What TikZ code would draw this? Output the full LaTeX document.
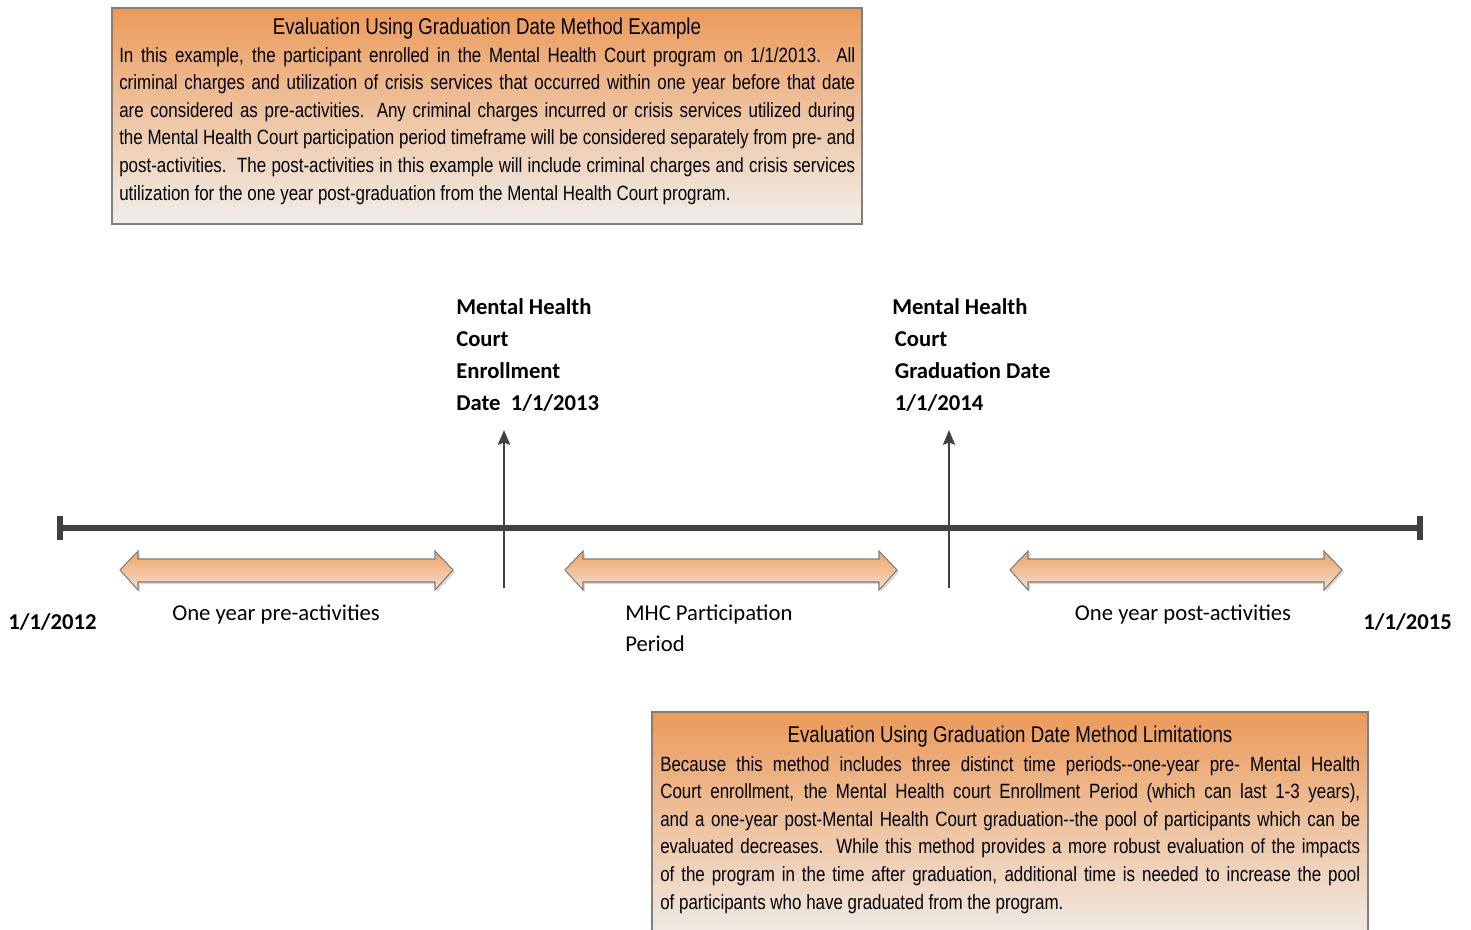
\documentclass[tikz,border=0pt]{standalone}
\usepackage{fontspec}
\setmainfont{Carlito}
\newfontfamily\narrowfont[FakeStretch=0.82]{Liberation Sans}
\usetikzlibrary{arrows.meta,shadows}

\definecolor{tlgray}{HTML}{404040}
\definecolor{edgegray}{HTML}{7F7F7F}
\definecolor{boxtop}{HTML}{EC9A5A}
\definecolor{boxbottom}{HTML}{F1EEEB}
\definecolor{spantop}{HTML}{EEA266}
\definecolor{spanbottom}{HTML}{F6DECD}

\tikzset{
  notebox/.style={draw=edgegray, line width=0.9pt, top color=boxtop, bottom color=boxbottom},
  notetitle/.style={font=\narrowfont\fontsize{17.1}{20}\selectfont, inner sep=0pt},
  notetext/.style={font=\narrowfont\fontsize{15.5}{20.7}\selectfont, align=justify, inner sep=0pt},
  spanshape/.style={draw=edgegray, line width=0.8pt, top color=spantop, bottom color=spanbottom,
    drop shadow={shadow xshift=1.5pt, shadow yshift=-1.5pt, opacity=0.3}},
  spanlabel/.style={font=\fontsize{17}{23.25}\selectfont, inner sep=0pt},
  datelabel/.style={font=\bfseries\fontsize{17}{24}\selectfont, inner sep=0pt},
  timeline/.style={draw=tlgray, line width=4pt},
  marker/.style={draw=tlgray, line width=1.4pt, -{Stealth[length=11pt, width=9pt, inset=1.5pt]}},
}

% block arrow between two tips (x of left tip, x of right tip)
\newcommand\spanarrow[2]{%
  \path[spanshape] (#1,570) -- (#1+18,551) -- (#1+18,559) -- (#2-18,559) -- (#2-18,551)
    -- (#2,570) -- (#2-18,590) -- (#2-18,582) -- (#1+18,582) -- (#1+18,590) -- cycle;}

\begin{document}
\begin{tikzpicture}[x=0.75pt, y=-0.75pt]
  \clip (0,0) rectangle (1471,929);

  % --- Example box ---
  \path[notebox] (112,8) rectangle (862,224);
  \node[notetitle, anchor=base] (extitle) at (487,34) {Evaluation Using Graduation Date Method Example};
  \node[notetext, anchor=base west, text width=552pt] (extext) at (119,62) {\hyphenpenalty=10000
    In this example, the participant enrolled in the Mental Health Court program on 1/1/2013.\ \ All\linebreak
    criminal charges and utilization of crisis services that occurred within one year before that date\linebreak
    are considered as pre-activities. Any criminal charges incurred or crisis services utilized during\linebreak
    the Mental Health Court participation period timeframe will be considered separately from pre- and\linebreak
    post-activities.\ \ The post-activities in this example will include criminal charges and crisis services\linebreak
    utilization for the one year post-graduation from the Mental Health Court program.};

  % --- Timeline ---
  \coordinate (tlstart) at (60,528);
  \coordinate (tlend) at (1420,528);
  \draw[timeline] (tlstart) -- (tlend);
  \draw[timeline] (tlstart) ++(0,-12) -- ++(0,24);
  \draw[timeline] (tlend) ++(0,-12) -- ++(0,24);

  % --- Enrollment and graduation markers ---
  \coordinate (enrollfoot) at (504,588);
  \coordinate (enrolltip) at (504,430);
  \coordinate (gradfoot) at (949,588);
  \coordinate (gradtip) at (949,430);
  \draw[marker] (enrollfoot) -- (enrolltip);
  \draw[marker] (gradfoot) -- (gradtip);

  \node[datelabel, anchor=base west, align=left] (enrolllabel) at (456,410)
    {Mental Health\\Court\\Enrollment\\Date\ \ 1/1/2013};
  \node[datelabel, anchor=base west, align=left] (gradlabel) at (892,410)
    {Mental Health\\\hspace*{2pt}Court\\\hspace*{2pt}Graduation Date\\\hspace*{2pt}1/1/2014};

  % --- Periods ---
  \spanarrow{120}{453}
  \spanarrow{565}{897}
  \spanarrow{1010}{1342}

  \node[spanlabel, anchor=base] (prelabel) at (276,620) {One year pre-activities};
  \node[spanlabel, anchor=base west, align=left] (mhclabel) at (625,651) {MHC Participation\\Period};
  \node[spanlabel, anchor=base] (postlabel) at (1183,620) {One year post-activities};

  \node[datelabel, anchor=base west] (startdate) at (8,629) {1/1/2012};
  \node[datelabel, anchor=base east] (enddate) at (1452,629) {1/1/2015};

  % --- Limitations box ---
  \path[notebox] (652,712) rectangle (1368,945);
  \node[notetitle, anchor=base] (limtitle) at (1010,742) {Evaluation Using Graduation Date Method Limitations};
  \node[notetext, anchor=base west, text width=525pt] (limtext) at (660,771) {\hyphenpenalty=10000
    Because this method includes three distinct time periods-{}-one-year pre- Mental Health\linebreak
    Court enrollment, the Mental Health court Enrollment Period (which can last 1-3 years),\linebreak
    and a one-year post-Mental Health Court graduation-{}-the pool of participants which can be\linebreak
    evaluated decreases.\ \ While this method provides a more robust evaluation of the impacts\linebreak
    of the program in the time after graduation, additional time is needed to increase the pool\linebreak
    of participants who have graduated from the program.};
\end{tikzpicture}
\end{document}
